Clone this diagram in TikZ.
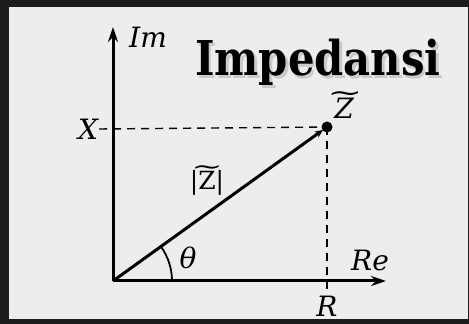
\documentclass[tikz,border=0pt]{standalone}
\usepackage{fontspec}
\setmainfont{DejaVu Serif}
\usepackage{tikz}
\usetikzlibrary{calc,arrows.meta,positioning}
\definecolor{paper}{RGB}{239,237,236}
\definecolor{frame}{RGB}{28,28,28}
% wide tilde over a letter
\newcommand\wtil[2][0pt]{\ooalign{#2\cr\hidewidth\kern#1\raisebox{.6em}{\scalebox{1.5}[0.9]{\textasciitilde}}\hidewidth\cr}}
\tikzset{
  axis/.style  = {-{Stealth[length=15pt,width=10pt]}, line width=3pt},
  vec/.style   = {-{Stealth[length=8pt,width=7pt]}, line width=3pt,
                  shorten >=5pt},
  guide/.style = {dashed, dash pattern=on 8pt off 6pt, line width=1.4pt},
  lab/.style   = {inner sep=1pt, font=\fontsize{28}{32}\selectfont\itshape},
  maglab/.style= {inner sep=1pt, font=\fontsize{25}{29}\selectfont},
  title/.style = {inner sep=0pt, font=\fontsize{48}{54}\selectfont\bfseries,
                  xscale=0.87},
}
\begin{document}
\begin{tikzpicture}[x=1pt,y=1pt]
% frame and paper
\useasboundingbox (0,0) rectangle (469,324);
\fill[frame] (0,0) rectangle (469,324);
\fill[paper] (9,5) rectangle (468,317);
% title with a soft shadow
\node[title, text=black!35, opacity=0.5] at (320.5,259) {Impedansi};
\node[title] (head) at (318,262) {Impedansi};
% points
\coordinate (O) at (113,43);
\coordinate (Z) at (327,197);
% axes
\draw[axis] (O) -- (113,297) coordinate (imtip);
\draw[axis] (O) -- (386,43) coordinate (retip);
\node[lab] (iml) at (148,287) {Im};
\node[lab] (rel) at (370,64) {Re};
% projections
\node[lab] (xl) at (88,195) {X};
\node[lab] (rl) at (327,18) {R};
\draw[guide] (xl.east) -- (Z);
\draw[guide] (Z) -- (rl.north);
% the vector
\draw[vec] (O) -- (Z);
\fill (Z) circle (5.5pt);
\node[lab] (zl) at (344,216) {\wtil[2pt]{Z}};
\node[maglab] (magl) at (207,141) {|\wtil{Z}|};
% angle
\draw[line width=1.8pt] ($(O)+(59,0)$) arc[start angle=0, end angle=35.7, radius=59];
\node[lab] (thl) at (188,66) {θ};
\end{tikzpicture}
\end{document}
